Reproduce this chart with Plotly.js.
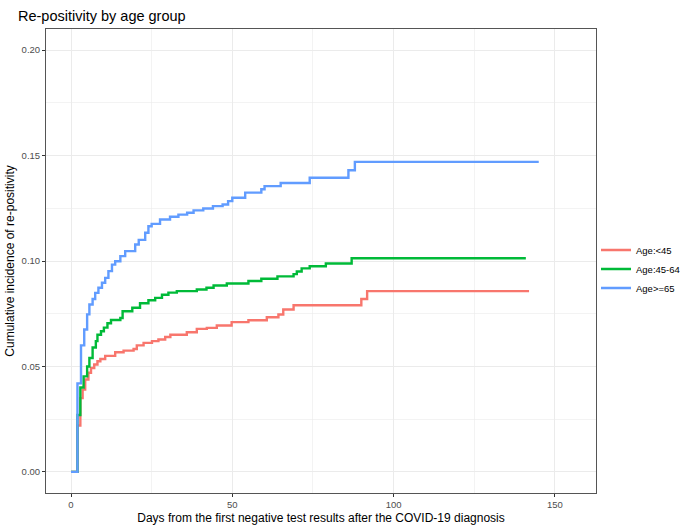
<!DOCTYPE html>
<html>
<head>
<meta charset="utf-8">
<script src="https://cdn.plot.ly/plotly-3.0.1.min.js"></script>
<style>html,body{margin:0;padding:0;background:#fff;}#chart{width:684px;height:529px;}</style>
</head>
<body>
<div id="chart"></div>
<script>
// Series names
const seriesNames = ["Age:<45", "Age:45-64", "Age>=65"];

// Age:<45 (step curve: day, cumulative incidence)
const daysLt45 = [0, 2, 2.9, 3.6, 4.4, 5.4, 6.2, 7.2, 8.2, 9.1, 10.6, 13.7, 16.3, 19.4, 20.4, 22.5, 25.1, 27.1, 29.2, 30.8, 35.9, 39, 42.1, 45.2, 49.8, 55, 60.7, 64.3, 65.8, 69, 90, 91.8, 142];
const valsLt45 = [0, 0.022, 0.035, 0.039, 0.0438, 0.047, 0.0493, 0.0509, 0.0525, 0.0535, 0.055, 0.0567, 0.0575, 0.0583, 0.060, 0.0612, 0.062, 0.0628, 0.064, 0.065, 0.0662, 0.0678, 0.0683, 0.0694, 0.071, 0.0719, 0.0733, 0.0746, 0.077, 0.079, 0.082, 0.0857, 0.0857];

// Age:45-64
const days4564 = [0, 2, 2.9, 3.9, 5.0, 5.7, 6.7, 7.7, 8.2, 9.3, 10.2, 11.3, 12.4, 15.3, 16, 19, 21.4, 24, 26.1, 28.2, 30.2, 32.8, 39, 42, 44.2, 48.3, 55, 59, 64, 69, 70, 71.5, 74, 79, 87, 141];
const vals4564 = [0, 0.027, 0.040, 0.0453, 0.050, 0.054, 0.059, 0.062, 0.065, 0.0667, 0.0684, 0.0705, 0.072, 0.073, 0.0762, 0.0778, 0.080, 0.0814, 0.0825, 0.084, 0.085, 0.0857, 0.0865, 0.0873, 0.0884, 0.0893, 0.0905, 0.0916, 0.0927, 0.0938, 0.095, 0.0965, 0.0975, 0.0988, 0.1013, 0.1013];

// Age>=65
const daysGe65 = [0, 2, 3.1, 4.1, 5.0, 5.7, 6.7, 7.5, 8.5, 9.6, 10.6, 11.6, 12.7, 13.7, 15.3, 16.8, 19.9, 21, 23, 24, 25, 27.6, 30.7, 33.3, 36, 38, 41, 44, 47, 48.7, 50, 54, 59, 60, 65, 74, 86, 88, 145];
const valsGe65 = [0, 0.042, 0.060, 0.0675, 0.0747, 0.0794, 0.082, 0.0849, 0.0873, 0.0897, 0.092, 0.0952, 0.0983, 0.0999, 0.1023, 0.1047, 0.1078, 0.110, 0.1134, 0.1165, 0.1176, 0.1197, 0.121, 0.122, 0.1229, 0.124, 0.1249, 0.126, 0.1268, 0.1284, 0.130, 0.1324, 0.134, 0.1355, 0.137, 0.1395, 0.143, 0.147, 0.147];

// Axis ticks
const xTicks = [0, 50, 100, 150];
const yTicks = [0, 0.05, 0.10, 0.15, 0.20];
const yTickLabels = ["0.00", "0.05", "0.10", "0.15", "0.20"];

const colors = ["#F8766D", "#00BA38", "#619CFF"];
const xs = [daysLt45, days4564, daysGe65];
const ys = [valsLt45, vals4564, valsGe65];

const traces = seriesNames.map((n, i) => ({
  x: xs[i], y: ys[i], name: n, type: "scatter", mode: "lines",
  line: {shape: "hv", color: colors[i], width: 2.4}
}));

const font = "Liberation Sans, Arial, sans-serif";
const layout = {
  width: 684, height: 529,
  paper_bgcolor: "#fff", plot_bgcolor: "#fff",
  margin: {l: 46, r: 88, t: 29, b: 36, autoexpand: false},
  font: {family: font, color: "#000"},
  title: {text: "Re-positivity by age group", x: 18/684, xanchor: "left", xref: "container",
          y: 1 - 16/529, yanchor: "middle", yref: "container",
          font: {size: 14.5, family: font, color: "#000"}},
  showlegend: true,
  legend: {x: 596/684, xref: "container", xanchor: "left", y: 1 - 269/529, yref: "container", yanchor: "middle",
           font: {size: 9.5, family: font, color: "#000"}, tracegroupgap: 0,
           bgcolor: "rgba(0,0,0,0)", itemwidth: 30},
  xaxis: {
    range: [-7.75, 162.75], tickvals: xTicks, ticktext: xTicks.map(String),
    showgrid: true, gridcolor: "#EBEBEB", gridwidth: 1,
    minor: {dtick: 25, tick0: 0, showgrid: true, gridcolor: "#EBEBEB", gridwidth: 0.6, ticks: ""},
    zeroline: false, showline: true, mirror: true, linecolor: "#555", linewidth: 1,
    ticks: "outside", ticklen: 3, tickcolor: "#333", tickwidth: 1,
    tickfont: {size: 9.5, color: "#4D4D4D", family: font},
    title: {text: "Days from the first negative test results after the COVID-19 diagnosis",
            font: {size: 12, color: "#000", family: font}, standoff: 4}
  },
  yaxis: {
    range: [-0.01, 0.21], tickvals: yTicks, ticktext: yTickLabels,
    showgrid: true, gridcolor: "#EBEBEB", gridwidth: 1,
    minor: {dtick: 0.025, tick0: 0, showgrid: true, gridcolor: "#EBEBEB", gridwidth: 0.6, ticks: ""},
    zeroline: false, showline: true, mirror: true, linecolor: "#555", linewidth: 1,
    ticks: "outside", ticklen: 3, tickcolor: "#333", tickwidth: 1,
    tickfont: {size: 9.5, color: "#4D4D4D", family: font},
    title: {text: "Cumulative incidence of re-positivity",
            font: {size: 12, color: "#000", family: font}, standoff: 4}
  }
};

Plotly.newPlot("chart", traces, layout, {displayModeBar: false, staticPlot: true});
</script>
</body>
</html>
